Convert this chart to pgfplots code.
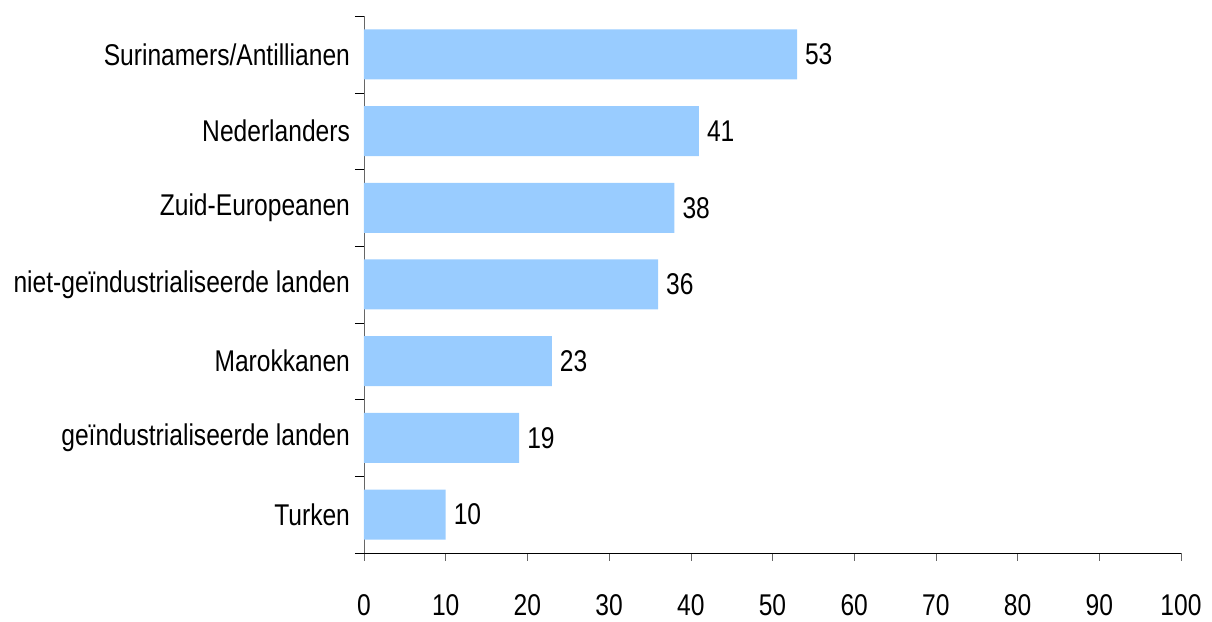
\documentclass[border=0pt]{standalone}
\usepackage{fontspec}
\setmainfont{Liberation Sans}[FakeStretch=0.82]
\usepackage{pgfplots}
\pgfplotsset{compat=1.18}
\definecolor{barblue}{HTML}{99CCFF}

\begin{document}
\begin{tikzpicture}
\begin{axis}[
    scale only axis,
    width=408.5pt, height=268.5pt,
    xbar, bar width=25pt,
    xmin=0, xmax=100,
    ymin=-0.5, ymax=6.5,
    axis lines*=left,
    x axis line style={black},
    y axis line style={gray!80!black},
    xtick={0,10,...,100},
    ytick={0,...,6},
    yticklabels={Turken, geïndustrialiseerde landen, Marokkanen, niet-geïndustrialiseerde landen, Zuid-Europeanen, Nederlanders, Surinamers/Antillianen},
    minor ytick={-0.5,0.5,...,6.5},
    tick align=outside,
    major tick length=4pt,
    minor tick length=4.5pt,
    major y tick style={draw=none},
    minor y tick style={black},
    major x tick style={gray!80!black},
    xticklabel style={yshift=-13pt},
    yticklabel style={xshift=0.5pt},
    font=\fontsize{15pt}{18pt}\selectfont,
    ticklabel style={font=\fontsize{15pt}{18pt}\selectfont},
    /pgf/number format/assume math mode=true,
    nodes near coords,
    every node near coord/.append style={anchor=west, xshift=0.5pt, font=\fontsize{15pt}{18pt}\selectfont},
  ]
  \addplot[fill=barblue, draw=none] coordinates {
    (10,0) (19,1) (23,2) (36,3) (38,4) (41,5) (53,6)
  };
\end{axis}
\path ([xshift=-182pt,yshift=-30.5pt]current axis.south west) rectangle ([xshift=15.5pt,yshift=8pt]current axis.north east);
\end{tikzpicture}
\end{document}
